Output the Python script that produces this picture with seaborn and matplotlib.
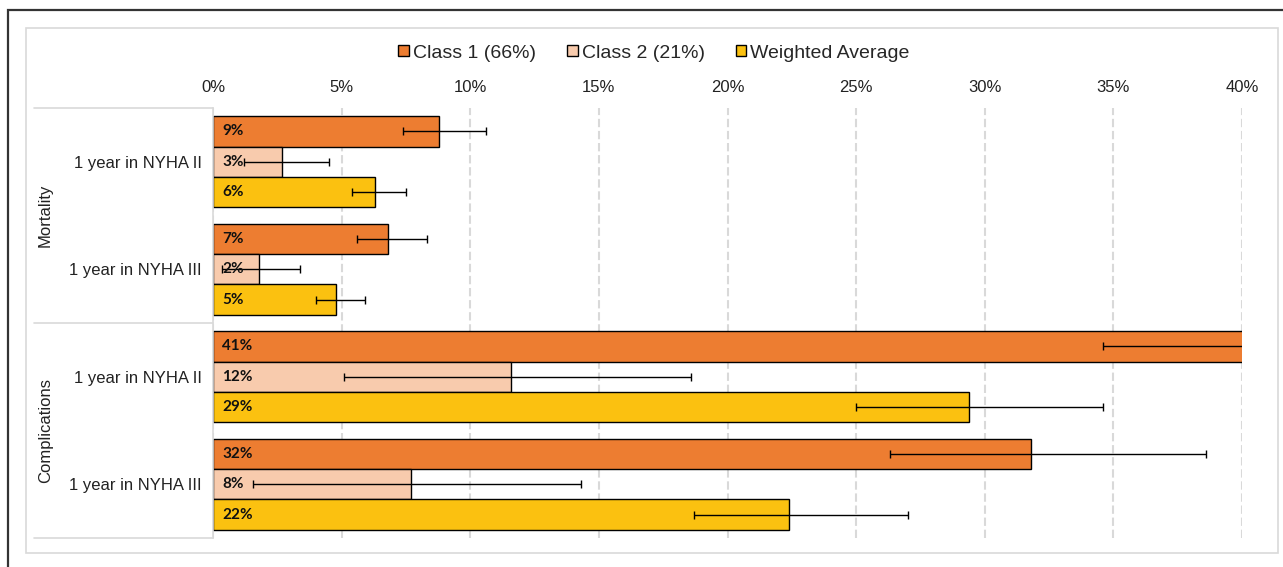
import numpy as np
import pandas as pd
import seaborn as sns
import matplotlib.pyplot as plt
from matplotlib.patches import Rectangle
from matplotlib.ticker import FuncFormatter

# data (percent)
groups = ["Mortality", "Mortality", "Complications", "Complications"]
rows = ["1 year in NYHA II", "1 year in NYHA III", "1 year in NYHA II", "1 year in NYHA III"]
series = ["Class 1 (66%)", "Class 2 (21%)", "Weighted Average"]

class1 = [8.8, 6.8, 41.0, 31.8]
class1_lo = [7.4, 5.6, 34.6, 26.3]
class1_hi = [10.6, 8.3, 47.4, 38.6]
class2 = [2.7, 1.8, 11.6, 7.7]
class2_lo = [1.2, 0.35, 5.1, 1.55]
class2_hi = [4.5, 3.4, 18.6, 14.3]
wavg = [6.3, 4.8, 29.4, 22.4]
wavg_lo = [5.4, 4.0, 25.0, 18.7]
wavg_hi = [7.5, 5.9, 34.6, 27.0]

colors = ["#ED7D31", "#F8CBAD", "#FBC110"]
ticks = [0, 5, 10, 15, 20, 25, 30, 35, 40]

keys = [g + " | " + r for g, r in zip(groups, rows)]
vals = [class1, class2, wavg]
los = [class1_lo, class2_lo, wavg_lo]
his = [class1_hi, class2_hi, wavg_hi]

df = pd.DataFrame({
    "key": keys * 3,
    "series": np.repeat(series, len(keys)),
    "value": class1 + class2 + wavg,
})

sns.set_style("white")
plt.rcParams['font.family'] = ['Liberation Sans', 'DejaVu Sans']

fig = plt.figure(figsize=(12.83, 5.67), dpi=100)
ax = fig.add_axes([213 / 1283, 1 - 538 / 567, (1242 - 213) / 1283, 430 / 567])

sns.barplot(data=df, x="value", y="key", hue="series", order=keys, hue_order=series,
            orient="h", palette=colors, saturation=1, width=0.85, edgecolor="black",
            linewidth=1, errorbar=None, ax=ax)

# error bars + value labels, placed on seaborn's bars
for cont, v, lo, hi in zip(ax.containers, vals, los, his):
    ys = [p.get_y() + p.get_height() / 2 for p in cont.patches]
    v = np.array(v)
    ax.errorbar(v, ys, xerr=[v - np.array(lo), np.array(hi) - v], fmt="none",
                ecolor="black", elinewidth=1, capsize=3, capthick=1, zorder=5)
    for y, val in zip(ys, v):
        ax.annotate(f"{val:.0f}%", xy=(0, y), xytext=(6.5, 0), textcoords="offset points",
                    ha="left", va="center", fontsize=11, fontweight="bold",
                    family=["Lato", "DejaVu Sans"], color="#111111", zorder=6)

ax.set_xlim(0, 40)
ax.set_ylim(len(keys) - 0.5, -0.5)
ax.set_xticks(ticks)
ax.xaxis.set_major_formatter(FuncFormatter(lambda x, p: f"{x:.0f}%"))
ax.xaxis.tick_top()
ax.tick_params(axis="x", length=0, pad=9, labelsize=12, colors="#222222")
ax.tick_params(axis="y", length=0, pad=8, labelsize=12, colors="#222222")
ax.set_yticks(range(len(keys)))
ax.set_yticklabels(rows)
ax.set_xlabel("")
ax.set_ylabel("")

ax.grid(axis="x", color="#D9D9D9", linestyle=(0, (4, 1.8)), linewidth=1.5)
ax.set_axisbelow(True)
for s in ["top", "right", "bottom"]:
    ax.spines[s].set_visible(False)
ax.spines["left"].set_color("#D9D9D9")
ax.spines["left"].set_linewidth(1.2)

# group labels and separators on the left
trans = ax.get_yaxis_transform()
for yline in [-0.5, 1.5, 3.5]:
    ax.plot([-0.174, 0], [yline, yline], transform=trans, color="#D9D9D9",
            lw=1.2, clip_on=False)
ax.text(-0.163, 0.5, "Mortality", transform=trans, rotation=90, ha="center",
        va="center", fontsize=12, color="#222222")
ax.text(-0.163, 2.5, "Complications", transform=trans, rotation=90, ha="center",
        va="center", fontsize=12, color="#222222")

# legend
handles, labels = ax.get_legend_handles_labels()
ax.get_legend().remove()
fig.legend(handles, labels, loc="center", bbox_to_anchor=(654 / 1283, 1 - 53 / 567),
           ncol=3, frameon=False, fontsize=14, handlelength=0.55, handleheight=0.55,
           handletextpad=0.2, columnspacing=1.6)

# frames
fig.add_artist(Rectangle((26 / 1283, 1 - 553 / 567), (1278 - 26) / 1283, (553 - 28) / 567,
                         transform=fig.transFigure, fill=False, ec="#D9D9D9", lw=1.2))
fig.add_artist(Rectangle((8 / 1283, -0.1), 1.2, 1.1 - 10 / 567,
                         transform=fig.transFigure, fill=False, ec="#333333", lw=1.6))

plt.savefig("out.png", dpi=100)
